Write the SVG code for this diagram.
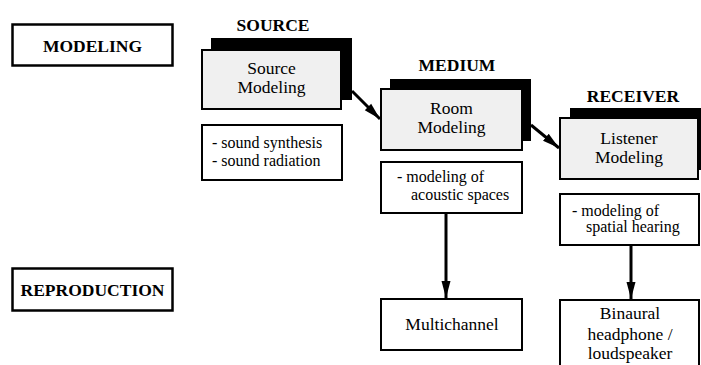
<svg xmlns="http://www.w3.org/2000/svg" width="701" height="365" viewBox="0 0 701 365">
<defs>
<style>
text{font-family:'Liberation Serif','DejaVu Serif','Times New Roman',serif;fill:#000}
.title{font-size:17.5px;font-weight:bold;text-anchor:middle}
.lbl{font-size:17.5px;text-anchor:middle}
.desc{font-size:16px}
.box{fill:#fff;stroke:#000;stroke-width:2}
.gbox{fill:#f0f0f0;stroke:#000;stroke-width:2}
.shadow{fill:#000}
.lab{fill:#fff;stroke:#000;stroke-width:2.5}
.conn{stroke:#000;stroke-width:3;fill:none}
</style>
<marker id="ah" markerUnits="userSpaceOnUse" markerWidth="20" markerHeight="14" refX="17" refY="6" orient="auto" viewBox="0 0 20 12">
<path d="M0,1.5 L17,6 L0,10.5 z" fill="#000"/>
</marker>
</defs>
<rect width="701" height="365" fill="#fff"/>
<g font-family="Liberation Serif, DejaVu Serif, serif">
<g id="modeling-label">
<rect class="lab" x="12.5" y="24.5" width="160" height="41"/>
<text class="title" x="92.5" y="52">MODELING</text>
</g>
<g id="reproduction-label">
<rect class="lab" x="12.5" y="268.5" width="160" height="42"/>
<text class="title" x="92.5" y="296">REPRODUCTION</text>
</g>

<g id="source">
<text class="title" x="273" y="31">SOURCE</text>
<rect class="shadow" x="211" y="38" width="141" height="62"/>
<rect class="gbox" x="202" y="50" width="139" height="59"/>
<text class="lbl" x="271.5" y="74">Source</text>
<text class="lbl" x="271.5" y="93">Modeling</text>
</g>
<g id="source-desc">
<rect class="box" x="202" y="125" width="140" height="55"/>
<text class="desc" x="212" y="148">- sound synthesis</text>
<text class="desc" x="212" y="166">- sound radiation</text>
</g>

<g id="medium">
<text class="title" x="457" y="71">MEDIUM</text>
<rect class="shadow" x="390" y="79" width="141" height="62"/>
<rect class="gbox" x="381" y="89" width="141" height="61"/>
<text class="lbl" x="451.5" y="114">Room</text>
<text class="lbl" x="451.5" y="133">Modeling</text>
</g>
<g id="medium-desc">
<rect class="box" x="381" y="162" width="141" height="51"/>
<text class="desc" x="397" y="182">- modeling of</text>
<text class="desc" x="411" y="200">acoustic spaces</text>
</g>

<g id="receiver">
<text class="title" x="633" y="102">RECEIVER</text>
<rect class="shadow" x="570" y="108" width="140" height="62"/>
<rect class="gbox" x="560" y="118" width="138" height="61"/>
<text class="lbl" x="629" y="144">Listener</text>
<text class="lbl" x="629" y="163">Modeling</text>
</g>
<g id="receiver-desc">
<rect class="box" x="560" y="194" width="139" height="51"/>
<text class="desc" x="572" y="216">- modeling of</text>
<text class="desc" x="586" y="232">spatial hearing</text>
</g>

<g id="multichannel">
<rect class="box" x="381" y="299" width="141" height="51"/>
<text class="lbl" x="452" y="330">Multichannel</text>
</g>
<g id="binaural">
<rect class="box" x="560" y="300" width="139" height="80"/>
<text class="lbl" x="630" y="319">Binaural</text>
<text class="lbl" x="630" y="340">headphone /</text>
<text class="lbl" x="630" y="359">loudspeaker</text>
</g>
</g>
<g id="connectors">
<path class="conn" d="M352,91 L380,119" marker-end="url(#ah)"/>
<path class="conn" d="M531,125 L559,148" marker-end="url(#ah)"/>
<path class="conn" d="M446,213 L446,298" marker-end="url(#ah)"/>
<path class="conn" d="M631,245 L631,299" marker-end="url(#ah)"/>
</g>
</svg>
